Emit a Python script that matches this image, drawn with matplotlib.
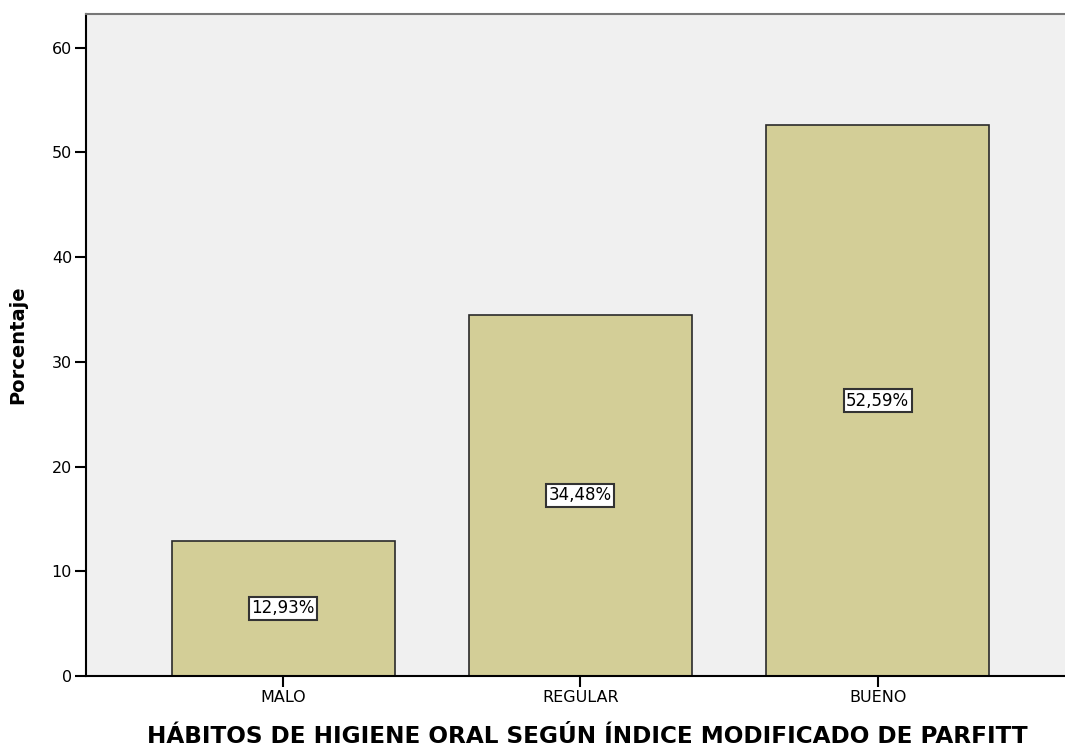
import numpy as np
from matplotlib import pyplot as plt

categorias = ['MALO', 'REGULAR', 'BUENO']
porcentajes = [12.93, 34.48, 52.59]
etiquetas = ['12,93%', '34,48%', '52,59%']
yticks = [0, 10, 20, 30, 40, 50, 60]

plt.rcParams['font.family'] = ['DejaVu Sans']

fig = plt.figure(figsize=(10.65, 7.47), dpi=100)
ax = fig.add_axes([86 / 1065, 1 - 676 / 747, 1 - 86 / 1065, (676 - 14) / 747])
ax.set_facecolor('#F0F0F0')

x = np.arange(len(categorias))
ax.bar(x, porcentajes, width=0.75, color='#D3CE97', edgecolor='#2a2a2a', linewidth=1.2)

# etiquetas en medio de cada barra
for xi, v, t in zip(x, porcentajes, etiquetas):
    ax.text(xi, v / 2, t, ha='center', va='center', fontsize=12, color='black',
            bbox=dict(boxstyle='square,pad=0.15', facecolor='white', edgecolor='#333333', linewidth=1.5))

ax.set_xlim(-0.663, 2.63)
ax.set_ylim(0, 63.2)
ax.set_xticks(x)
ax.set_xticklabels(categorias, fontsize=11.5)
ax.set_yticks(yticks)
ax.set_yticklabels([str(t) for t in yticks], fontsize=11.5)
ax.tick_params(axis='both', direction='out', length=8, width=1.5, color='black', pad=2)

ax.spines['left'].set_linewidth(1.5)
ax.spines['bottom'].set_linewidth(1.5)
ax.spines['left'].set_color('black')
ax.spines['bottom'].set_color('black')
ax.spines['top'].set_color('#777777')
ax.spines['top'].set_linewidth(1.5)
ax.spines['right'].set_visible(False)

ax.set_ylabel('Porcentaje', fontsize=14, fontweight='bold', va='center')
ax.yaxis.set_label_coords(-0.0695, 0.5)
ax.set_xlabel('HÁBITOS DE HIGIENE ORAL SEGÚN ÍNDICE MODIFICADO DE PARFITT',
              fontsize=16.7, fontweight='bold', va='center')
ax.xaxis.set_label_coords(0.512, -0.092)

plt.savefig('out.png', dpi=100)
